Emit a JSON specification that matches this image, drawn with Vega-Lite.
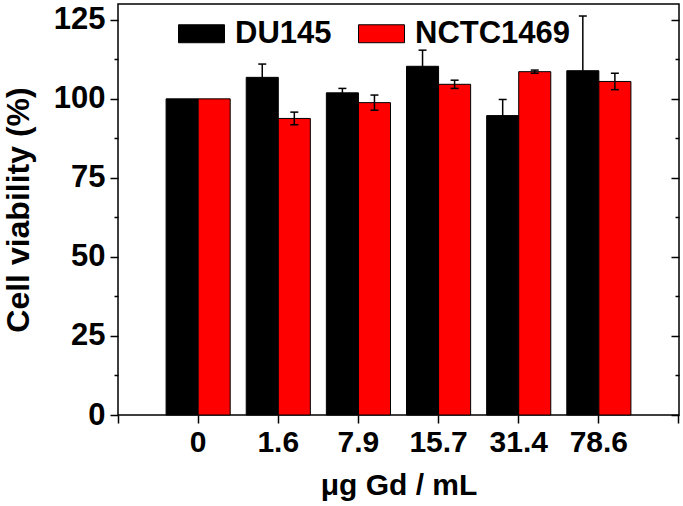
{
  "$schema": "https://vega.github.io/schema/vega-lite/v6.json",
  "width": 561,
  "height": 411,
  "autosize": "none",
  "padding": {"left": 118, "top": 4, "right": 4, "bottom": 91},
  "background": "white",
  "config": {
    "view": {"stroke": "#000", "strokeWidth": 1.5},
    "axis": {
      "domain": false, "grid": false,
      "tickColor": "#000", "tickWidth": 1.5,
      "labelFont": "Liberation Sans", "labelFontWeight": "bold", "labelColor": "#000",
      "titleFont": "Liberation Sans", "titleFontWeight": "bold", "titleColor": "#000"
    }
  },
  "data": {
    "values": [
      {"dose": "0", "line": "DU145", "v": 100},
      {"dose": "0", "line": "NCTC1469", "v": 100},
      {"dose": "1.6", "line": "DU145", "v": 106.8, "lo": 102.6, "hi": 111.0},
      {"dose": "1.6", "line": "NCTC1469", "v": 93.8, "lo": 91.8, "hi": 95.8},
      {"dose": "7.9", "line": "DU145", "v": 101.9, "lo": 100.5, "hi": 103.3},
      {"dose": "7.9", "line": "NCTC1469", "v": 98.8, "lo": 96.4, "hi": 101.2},
      {"dose": "15.7", "line": "DU145", "v": 110.3, "lo": 105.2, "hi": 115.4},
      {"dose": "15.7", "line": "NCTC1469", "v": 104.6, "lo": 103.3, "hi": 105.9},
      {"dose": "31.4", "line": "DU145", "v": 94.7, "lo": 89.6, "hi": 99.8},
      {"dose": "31.4", "line": "NCTC1469", "v": 108.6, "lo": 108.1, "hi": 109.1},
      {"dose": "78.6", "line": "DU145", "v": 108.9, "lo": 91.6, "hi": 126.2},
      {"dose": "78.6", "line": "NCTC1469", "v": 105.5, "lo": 102.9, "hi": 108.1}
    ]
  },
  "encoding": {
    "x": {
      "field": "dose", "type": "nominal", "sort": null,
      "scale": {
        "domain": ["L", "0", "1.6", "7.9", "15.7", "31.4", "78.6", "R"],
        "range": [-40.07, 601.07], "paddingInner": 0, "paddingOuter": 0
      },
      "axis": {
        "labelExpr": "datum.value == 'L' || datum.value == 'R' ? '' : datum.label",
        "labelAngle": 0, "tickSize": 8, "labelFontSize": 30, "labelPadding": 4,
        "title": "μg Gd / mL", "titleFontSize": 30, "titlePadding": 13
      }
    },
    "xOffset": {
      "field": "line", "type": "nominal",
      "scale": {"domain": ["DU145", "NCTC1469"], "paddingInner": 0, "paddingOuter": 0.25}
    }
  },
  "layer": [
    {
      "mark": {"type": "bar", "stroke": "#000", "strokeWidth": 1},
      "encoding": {
        "y": {
          "field": "v", "type": "quantitative",
          "scale": {"domain": [0, 130], "nice": false},
          "axis": {
            "orient": "left", "values": [0, 25, 50, 75, 100, 125], "tickSize": 8,
            "labelFontSize": 31, "labelPadding": 5,
            "title": "Cell viability (%)", "titleFontSize": 32, "titlePadding": 18
          }
        },
        "color": {
          "field": "line", "type": "nominal",
          "scale": {"domain": ["DU145", "NCTC1469"], "range": ["#000000", "#ff0000"]},
          "legend": {
            "orient": "none", "legendX": 60, "legendY": 6,
            "direction": "horizontal", "columns": 2, "title": null,
            "symbolType": "M-1,-0.39H1V0.39H-1Z", "symbolSize": 2116,
            "symbolStrokeColor": "#000", "symbolStrokeWidth": 1,
            "labelFont": "Liberation Sans", "labelFontWeight": "bold", "labelFontSize": 31,
            "labelColor": "#000", "labelOffset": 10, "labelLimit": 300,
            "columnPadding": 24, "padding": 0
          }
        }
      }
    },
    {
      "transform": [{"filter": "isValid(datum.hi)"}],
      "mark": {"type": "rule", "color": "#000", "strokeWidth": 1.5},
      "encoding": {
        "y": {
          "field": "lo", "type": "quantitative",
          "scale": {"domain": [0, 130], "nice": false},
          "axis": {
            "orient": "left", "values": [12.5, 37.5, 62.5, 87.5, 112.5],
            "tickSize": 4, "labels": false, "title": null
          }
        },
        "y2": {"field": "hi"}
      }
    },
    {
      "transform": [{"filter": "isValid(datum.hi)"}],
      "mark": {"type": "tick", "orient": "horizontal", "size": 8, "thickness": 1.5, "color": "#000", "opacity": 1},
      "encoding": {
        "y": {
          "field": "hi", "type": "quantitative",
          "scale": {"domain": [0, 130], "nice": false},
          "axis": {
            "orient": "right", "values": [0, 25, 50, 75, 100, 125],
            "tickSize": -8, "labels": false, "title": null
          }
        }
      }
    },
    {
      "transform": [{"filter": "isValid(datum.lo)"}],
      "mark": {"type": "tick", "orient": "horizontal", "size": 8, "thickness": 1.5, "color": "#000", "opacity": 1},
      "encoding": {
        "y": {
          "field": "lo", "type": "quantitative",
          "scale": {"domain": [0, 130], "nice": false},
          "axis": {
            "orient": "right", "values": [12.5, 37.5, 62.5, 87.5, 112.5],
            "tickSize": -4, "labels": false, "title": null
          }
        }
      }
    }
  ],
  "resolve": {"scale": {"y": "independent"}}
}
